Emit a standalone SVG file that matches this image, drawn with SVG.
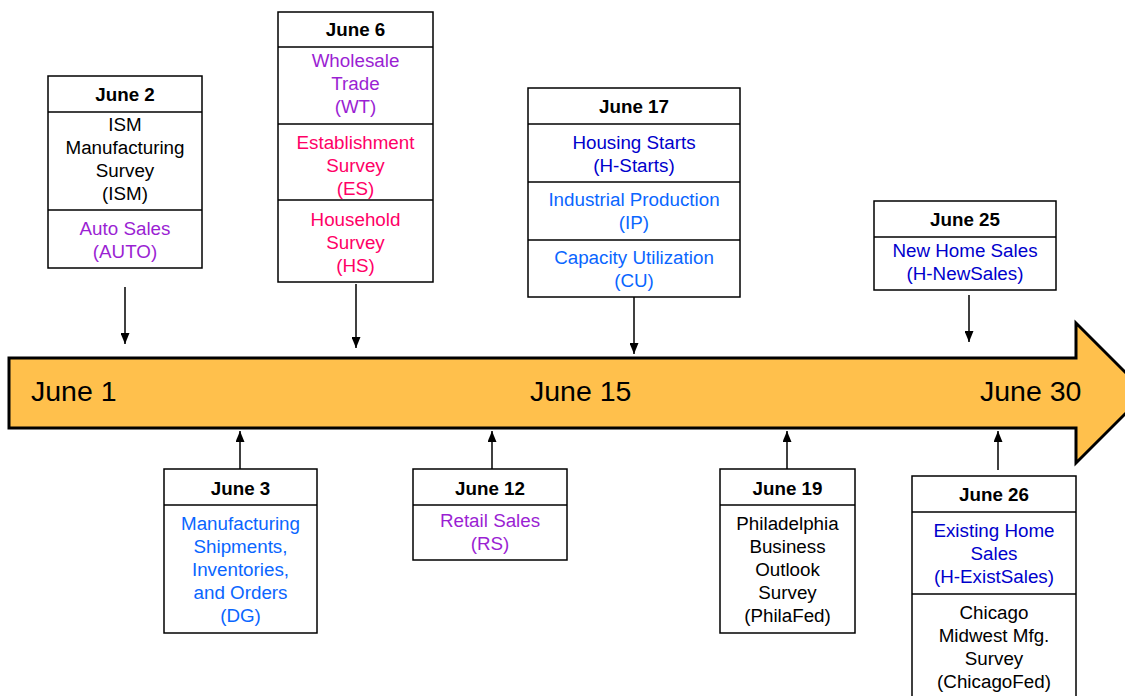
<svg xmlns="http://www.w3.org/2000/svg" width="1125" height="696" viewBox="0 0 1125 696">
<defs>
<style>
.box{fill:#fff;stroke:#000;stroke-width:1.5}
.div{stroke:#000;stroke-width:1.5}
text{font-family:"Liberation Sans",Arial,sans-serif;font-size:18.8px;text-anchor:middle}
.h{font-weight:bold;fill:#000}
.k{fill:#000}
.pu{fill:#9B1FD3}
.pk{fill:#FF0066}
.db{fill:#0000CC}
.lb{fill:#0A66FF}
.tl{font-size:28.5px;text-anchor:start;fill:#000}
.con{stroke:#000;stroke-width:1.5;fill:none;marker-end:url(#ah)}
</style>
<marker id="ah" viewBox="0 0 11 9" refX="11" refY="4.5" markerWidth="11" markerHeight="9" markerUnits="userSpaceOnUse" orient="auto"><path d="M0,0 L11,4.5 L0,9 z" fill="#000"/></marker>
</defs>
<rect width="1125" height="696" fill="#fff"/>
<g id="timeline">
<polygon points="9,358 1076,358 1076,323 1146,393 1076,463 1076,428 9,428" fill="#FFC04C" stroke="#000" stroke-width="3"/>
<text class="tl" x="31" y="401">June 1</text>
<text class="tl" x="530" y="401">June 15</text>
<text class="tl" x="980" y="401">June 30</text>
</g>
<g id="connectors">
<line class="con" x1="125" y1="287" x2="125" y2="344"/>
<line class="con" x1="356" y1="284" x2="356" y2="348"/>
<line class="con" x1="634" y1="297" x2="634" y2="354"/>
<line class="con" x1="969" y1="295" x2="969" y2="342"/>
<line class="con" x1="240" y1="469" x2="240" y2="431"/>
<line class="con" x1="492" y1="469" x2="492" y2="431"/>
<line class="con" x1="787" y1="469" x2="787" y2="431"/>
<line class="con" x1="998" y1="470" x2="998" y2="431"/>
</g>
<g id="june2">
<rect class="box" x="48" y="76" width="154" height="192"/>
<line class="div" x1="48" y1="112" x2="202" y2="112"/>
<line class="div" x1="48" y1="210" x2="202" y2="210"/>
<text class="h" x="125" y="101">June 2</text>
<text class="k" x="125" y="131">ISM</text>
<text class="k" x="125" y="154">Manufacturing</text>
<text class="k" x="125" y="177">Survey</text>
<text class="k" x="125" y="200">(ISM)</text>
<text class="pu" x="125" y="235">Auto Sales</text>
<text class="pu" x="125" y="258">(AUTO)</text>
</g>
<g id="june6">
<rect class="box" x="278" y="12" width="155" height="270"/>
<line class="div" x1="278" y1="47" x2="433" y2="47"/>
<line class="div" x1="278" y1="124" x2="433" y2="124"/>
<line class="div" x1="278" y1="200" x2="433" y2="200"/>
<text class="h" x="355.5" y="36">June 6</text>
<text class="pu" x="355.5" y="67">Wholesale</text>
<text class="pu" x="355.5" y="90">Trade</text>
<text class="pu" x="355.5" y="113">(WT)</text>
<text class="pk" x="355.5" y="149">Establishment</text>
<text class="pk" x="355.5" y="172">Survey</text>
<text class="pk" x="355.5" y="195">(ES)</text>
<text class="pk" x="355.5" y="226">Household</text>
<text class="pk" x="355.5" y="249">Survey</text>
<text class="pk" x="355.5" y="272">(HS)</text>
</g>
<g id="june17">
<rect class="box" x="528" y="88" width="212" height="209"/>
<line class="div" x1="528" y1="124" x2="740" y2="124"/>
<line class="div" x1="528" y1="182" x2="740" y2="182"/>
<line class="div" x1="528" y1="240" x2="740" y2="240"/>
<text class="h" x="634" y="113">June 17</text>
<text class="db" x="634" y="149">Housing Starts</text>
<text class="db" x="634" y="172">(H-Starts)</text>
<text class="lb" x="634" y="206">Industrial Production</text>
<text class="lb" x="634" y="229">(IP)</text>
<text class="lb" x="634" y="264">Capacity Utilization</text>
<text class="lb" x="634" y="287">(CU)</text>
</g>
<g id="june25">
<rect class="box" x="874" y="201" width="182" height="89"/>
<line class="div" x1="874" y1="237" x2="1056" y2="237"/>
<text class="h" x="965" y="226">June 25</text>
<text class="db" x="965" y="257">New Home Sales</text>
<text class="db" x="965" y="280">(H-NewSales)</text>
</g>
<g id="june3">
<rect class="box" x="164" y="469" width="153" height="164"/>
<line class="div" x1="164" y1="505" x2="317" y2="505"/>
<text class="h" x="240.5" y="495">June 3</text>
<text class="lb" x="240.5" y="530">Manufacturing</text>
<text class="lb" x="240.5" y="553">Shipments,</text>
<text class="lb" x="240.5" y="576">Inventories,</text>
<text class="lb" x="240.5" y="599">and Orders</text>
<text class="lb" x="240.5" y="622">(DG)</text>
</g>
<g id="june12">
<rect class="box" x="413" y="469" width="154" height="91"/>
<line class="div" x1="413" y1="505" x2="567" y2="505"/>
<text class="h" x="490" y="495">June 12</text>
<text class="pu" x="490" y="527">Retail Sales</text>
<text class="pu" x="490" y="550">(RS)</text>
</g>
<g id="june19">
<rect class="box" x="720" y="469" width="135" height="164"/>
<line class="div" x1="720" y1="505" x2="855" y2="505"/>
<text class="h" x="787.5" y="495">June 19</text>
<text class="k" x="787.5" y="530">Philadelphia</text>
<text class="k" x="787.5" y="553">Business</text>
<text class="k" x="787.5" y="576">Outlook</text>
<text class="k" x="787.5" y="599">Survey</text>
<text class="k" x="787.5" y="622">(PhilaFed)</text>
</g>
<g id="june26">
<rect class="box" x="912" y="476" width="164" height="230"/>
<line class="div" x1="912" y1="512" x2="1076" y2="512"/>
<line class="div" x1="912" y1="594" x2="1076" y2="594"/>
<text class="h" x="994" y="501">June 26</text>
<text class="db" x="994" y="537">Existing Home</text>
<text class="db" x="994" y="560">Sales</text>
<text class="db" x="994" y="583">(H-ExistSales)</text>
<text class="k" x="994" y="619">Chicago</text>
<text class="k" x="994" y="642">Midwest Mfg.</text>
<text class="k" x="994" y="665">Survey</text>
<text class="k" x="994" y="688">(ChicagoFed)</text>
</g>
</svg>
